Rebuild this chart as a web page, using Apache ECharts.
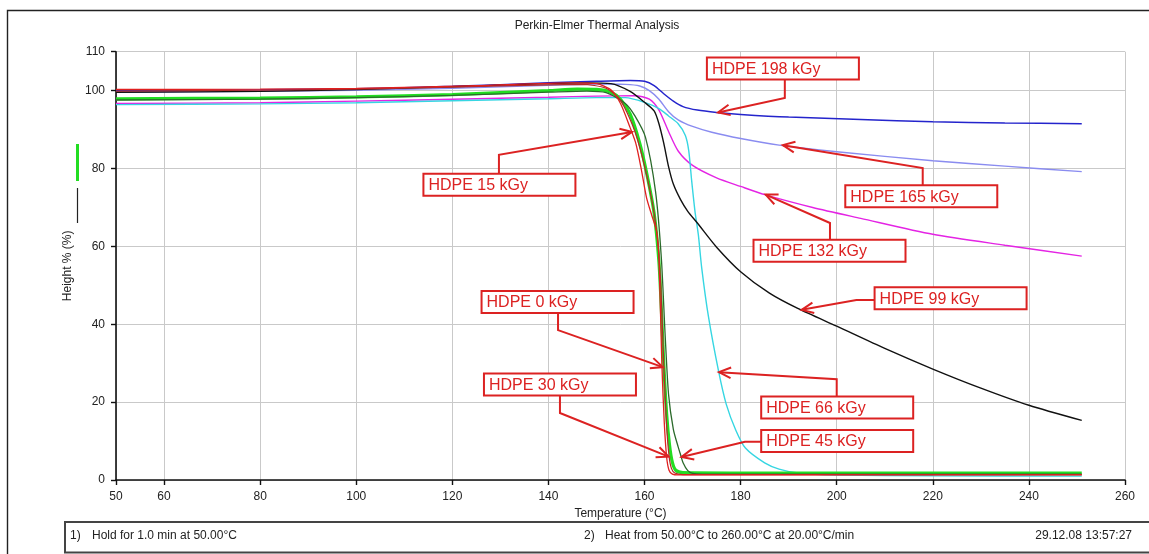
<!DOCTYPE html>
<html>
<head>
<meta charset="utf-8">
<script src="https://cdn.jsdelivr.net/npm/echarts@6/dist/echarts.min.js"></script>
<style>
  html, body { margin: 0; padding: 0; background: #fff; }
  #chart { width: 1149px; height: 554px; }
</style>
</head>
<body>
<div id="chart"></div>
<script>
// Thermogravimetric curves of irradiated HDPE: temperature (°C) vs residual height (%)
const xTicks = [50, 60, 80, 100, 120, 140, 160, 180, 200, 220, 240, 260];
const yTicks = [0, 20, 40, 60, 80, 100, 110];

const t198 = [50, 80, 100, 120, 140, 150, 157, 160, 162, 164, 166, 168, 171, 175, 180, 190, 205, 220, 235, 251];
const h198 = [100.0, 100.2, 100.5, 101.1, 102.0, 102.4, 102.6, 102.4, 101.3, 99.2, 97.3, 95.9, 95.0, 94.4, 93.9, 93.2, 92.6, 92.0, 91.7, 91.5];

const t165 = [50, 80, 100, 120, 140, 150, 156, 159, 161, 163, 165, 167, 170, 174, 180, 188, 200, 220, 235, 251];
const h165 = [99.6, 99.8, 100.1, 100.6, 101.4, 101.7, 101.6, 101.2, 100.0, 97.8, 94.6, 92.5, 90.8, 89.3, 87.7, 86.0, 84.3, 82.0, 80.6, 79.2];

const t132 = [50, 80, 100, 120, 140, 150, 158, 161, 163, 165, 167, 170, 175, 180, 185, 195, 205, 220, 235, 251];
const h132 = [96.7, 96.9, 97.3, 97.8, 98.3, 98.6, 98.7, 97.8, 95.0, 89.5, 84.5, 80.8, 77.6, 75.4, 73.3, 70.0, 67.2, 63.1, 60.3, 57.5];

const t99 = [50, 80, 100, 120, 140, 148, 153, 157, 160, 162, 163, 164, 165, 166, 167.5, 169, 171, 175, 180, 186, 192, 200, 210, 220, 230, 240, 251];
const h99 = [99.6, 99.8, 100.3, 101.0, 101.8, 102.0, 101.8, 99.8, 97.0, 94.8, 91.5, 86.5, 80.5, 76.0, 72.0, 69.0, 66.0, 59.8, 53.5, 48.0, 44.0, 39.5, 33.8, 28.5, 23.6, 19.2, 15.3];

const t66 = [50, 80, 100, 120, 140, 150, 156, 160, 163, 165, 167, 168.5, 169.2, 169.8, 170.5, 171.2, 171.9, 173.3, 175.4, 177, 179, 181, 185, 188, 192, 200, 220, 251];
const h66 = [96.4, 96.6, 96.9, 97.4, 97.9, 98.2, 98.2, 97.0, 95.4, 93.5, 91.5, 88.5, 84.6, 77.0, 69.0, 63.0, 54.5, 42.0, 28.0, 19.5, 12.8, 8.2, 4.4, 2.8, 1.8, 1.3, 1.1, 1.0];

const t45 = [50, 80, 100, 120, 140, 148, 152, 156, 158, 160.2, 162.3, 163.5, 164.3, 165, 166, 167, 167.5, 168, 169, 170, 172, 200, 251];
const h45 = [97.6, 97.8, 98.2, 98.8, 99.6, 99.9, 99.5, 96.7, 93.5, 88.0, 74.0, 57.0, 37.0, 22.0, 13.0, 8.5, 6.5, 4.5, 2.4, 1.7, 1.5, 1.5, 1.5];

const t30 = [50, 80, 100, 120, 140, 147, 152, 155, 158, 160.5, 162.3, 163.3, 164, 164.6, 165.1, 165.6, 166.3, 168, 251];
const h30 = [99.9, 100.1, 100.4, 100.9, 101.5, 101.6, 100.6, 97.5, 89.5, 78.0, 66.0, 52.0, 30.0, 14.0, 6.2, 3.0, 1.8, 1.4, 1.4];

const t15 = [50, 80, 100, 125, 145, 150, 153, 155, 157, 158.2, 159.3, 160.4, 161.5, 162.5, 163, 163.6, 164.1, 164.6, 165.1, 165.8, 167, 251];
const h15 = [100.3, 100.4, 100.6, 101.3, 102.0, 101.8, 100.2, 96.7, 90.5, 86.4, 80.0, 72.6, 68.0, 64.0, 57.0, 30.0, 15.0, 5.9, 2.5, 1.5, 1.3, 1.3];

const t0 = [50, 80, 100, 120, 140, 146, 150, 153, 155, 157, 159, 160.5, 162, 163, 163.5, 164, 164.6, 165.2, 165.8, 166.5, 168, 180, 220, 251];
const h0 = [97.9, 98.1, 98.4, 99.0, 100.0, 100.4, 100.3, 99.6, 97.8, 94.0, 86.5, 78.5, 68.5, 56.0, 44.0, 30.0, 17.0, 9.0, 4.5, 2.5, 1.9, 1.8, 1.8, 1.8];

// Callouts: label, arrow tip (°C, %), leader bend (°C, %), box centre (°C, %)
const calloutText = ['HDPE 198 kGy', 'HDPE 165 kGy', 'HDPE 132 kGy', 'HDPE 99 kGy', 'HDPE 66 kGy',
                     'HDPE 45 kGy', 'HDPE 30 kGy', 'HDPE 0 kGy', 'HDPE 15 kGy'];
const calloutTip = [[175.3, 94.4], [188.8, 86.0], [185.2, 73.3], [192.7, 43.7], [175.5, 27.7],
                    [167.7, 5.9], [165.0, 6.0], [163.8, 29.0], [157.4, 89.4]];
const calloutBend = [[189.2, 98.1], [217.9, 80.1], [198.6, 66.0], [204.1, 46.2], [200.0, 25.9],
                     [180.9, 9.8], [142.4, 17.2], [142.0, 38.5], [129.7, 83.5]];
const calloutBox = [[188.8, 105.7], [217.6, 72.9], [198.5, 58.9], [223.7, 46.7], [200.1, 18.6],
                    [200.1, 10.0], [142.4, 24.5], [141.9, 45.7], [129.8, 75.8]];

const RED = '#dc2222';
const FONT = '"Liberation Sans", Arial, sans-serif';

function pairs(t, h) { return t.map((x, i) => [x, h[i]]); }

function curve(name, t, h, color, width) {
  return {
    name: name, type: 'line', data: pairs(t, h),
    showSymbol: false, smooth: 0.25,
    lineStyle: { color: color, width: width }, itemStyle: { color: color },
    emphasis: { disabled: true }, silent: true
  };
}

const chart = echarts.init(document.getElementById('chart'), null, { renderer: 'canvas' });

const calloutData = calloutText.map((_, i) =>
  [calloutTip[i][0], calloutTip[i][1], calloutBend[i][0], calloutBend[i][1], calloutBox[i][0], calloutBox[i][1]]);

chart.setOption({
  animation: false,
  backgroundColor: '#fff',
  textStyle: { fontFamily: FONT },
  grid: { left: 116, right: 24, top: 51.7, bottom: 74, containLabel: false },
  xAxis: {
    type: 'value', min: 50, max: 260,
    name: 'Temperature (°C)', nameLocation: 'middle', nameGap: 24,
    nameTextStyle: { fontSize: 12, color: '#222', fontFamily: FONT },
    axisLine: { show: true, onZero: false, lineStyle: { color: '#111', width: 1.6 } },
    axisTick: { show: true, inside: false, length: 5, customValues: xTicks, lineStyle: { color: '#111', width: 1.4 } },
    axisLabel: { customValues: xTicks, margin: 11, fontSize: 12, color: '#222', fontFamily: FONT },
    splitLine: { show: true, lineStyle: { color: '#c9c9c9', width: 1 } }
  },
  yAxis: {
    type: 'value', min: 0, max: 110,
    name: 'Height % (%)', nameLocation: 'middle', nameGap: 33,
    nameTextStyle: { fontSize: 12, color: '#222', fontFamily: FONT },
    axisLine: { show: true, onZero: false, lineStyle: { color: '#111', width: 1.6 } },
    axisTick: { show: true, inside: false, length: 5, customValues: yTicks, lineStyle: { color: '#111', width: 1.4 } },
    axisLabel: { customValues: yTicks, margin: 11, fontSize: 12, color: '#222', fontFamily: FONT },
    splitLine: { show: true, lineStyle: { color: '#c9c9c9', width: 1 } }
  },
  graphic: [
    { type: 'rect', shape: { x: 7.5, y: 10.5, width: 1160, height: 570 },
      style: { fill: 'none', stroke: '#222', lineWidth: 1.4 }, silent: true },
    { type: 'text', x: 597, y: 26, style: { text: 'Perkin-Elmer Thermal Analysis', font: '12px ' + FONT,
      fill: '#222', textAlign: 'center', textVerticalAlign: 'middle' }, silent: true },
    { type: 'line', shape: { x1: 77.5, y1: 144, x2: 77.5, y2: 181 },
      style: { stroke: '#22dd22', lineWidth: 3 }, silent: true },
    { type: 'line', shape: { x1: 77.5, y1: 188, x2: 77.5, y2: 223 },
      style: { stroke: '#222', lineWidth: 1.2 }, silent: true },
    { type: 'rect', shape: { x: 65, y: 522, width: 1100, height: 30.5 },
      style: { fill: 'none', stroke: '#444', lineWidth: 2 }, silent: true },
    { type: 'text', x: 70, y: 536, style: { text: '1)', font: '12px ' + FONT, fill: '#222', textVerticalAlign: 'middle' }, silent: true },
    { type: 'text', x: 92, y: 536, style: { text: 'Hold for 1.0 min at 50.00°C', font: '12px ' + FONT, fill: '#222', textVerticalAlign: 'middle' }, silent: true },
    { type: 'text', x: 584, y: 536, style: { text: '2)', font: '12px ' + FONT, fill: '#222', textVerticalAlign: 'middle' }, silent: true },
    { type: 'text', x: 605, y: 536, style: { text: 'Heat from 50.00°C to 260.00°C at 20.00°C/min', font: '12px ' + FONT, fill: '#222', textVerticalAlign: 'middle' }, silent: true },
    { type: 'text', x: 1132, y: 536, style: { text: '29.12.08 13:57:27', font: '12px ' + FONT, fill: '#222', textAlign: 'right', textVerticalAlign: 'middle' }, silent: true }
  ],
  series: [
    curve('HDPE 165 kGy', t165, h165, '#8a8cf0', 1.4),
    curve('HDPE 198 kGy', t198, h198, '#2424cc', 1.5),
    curve('HDPE 132 kGy', t132, h132, '#e424e4', 1.4),
    curve('HDPE 66 kGy', t66, h66, '#36d6e2', 1.4),
    curve('HDPE 99 kGy', t99, h99, '#111111', 1.4),
    curve('HDPE 0 kGy', t0, h0, '#22dd22', 3.2),
    curve('HDPE 45 kGy', t45, h45, '#2b6a2b', 1.3),
    curve('HDPE 30 kGy', t30, h30, '#b02a2a', 1.2),
    curve('HDPE 15 kGy', t15, h15, '#e02020', 1.3),
    {
      name: 'callouts', type: 'custom', coordinateSystem: 'cartesian2d',
      clip: false, silent: true, z: 10,
      data: calloutData,
      renderItem: function (params, api) {
        const tip = api.coord([api.value(0), api.value(1)]);
        const bend = api.coord([api.value(2), api.value(3)]);
        const c = api.coord([api.value(4), api.value(5)]);
        const w = 152, h = 22;
        const left = c[0] - w / 2, top = c[1] - h / 2;
        let start;
        if (bend[1] > top + h) start = [bend[0], top + h];
        else if (bend[1] < top) start = [bend[0], top];
        else if (bend[0] < left) start = [left, bend[1]];
        else start = [left + w, bend[1]];
        const ang = Math.atan2(tip[1] - bend[1], tip[0] - bend[0]);
        const L = 13, phi = 0.42;
        const a1 = [tip[0] - L * Math.cos(ang - phi), tip[1] - L * Math.sin(ang - phi)];
        const a2 = [tip[0] - L * Math.cos(ang + phi), tip[1] - L * Math.sin(ang + phi)];
        return {
          type: 'group',
          children: [
            { type: 'polyline', shape: { points: [start, bend, tip] }, style: { stroke: RED, lineWidth: 2, fill: 'none' } },
            { type: 'polyline', shape: { points: [a1, tip, a2] }, style: { stroke: RED, lineWidth: 2, fill: 'none' } },
            { type: 'rect', shape: { x: left, y: top, width: w, height: h }, style: { fill: '#fff', stroke: RED, lineWidth: 2 } },
            { type: 'text', x: left + 5, y: c[1] + 1, style: { text: calloutText[params.dataIndex], fill: RED,
              font: '16px ' + FONT, textAlign: 'left', textVerticalAlign: 'middle' } }
          ]
        };
      }
    }
  ]
});
</script>
</body>
</html>
